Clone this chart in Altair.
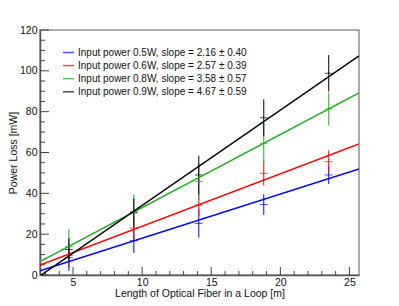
import altair as alt
import pandas as pd

# ---- data ----
lengths = [4.7, 9.4, 14.1, 18.8, 23.5]
series_names = [
    "Input power 0.5W, slope = 2.16 ± 0.40",
    "Input power 0.6W, slope = 2.57 ± 0.39",
    "Input power 0.8W, slope = 3.58 ± 0.57",
    "Input power 0.9W, slope = 4.67 ± 0.59",
]
colors = ["#0000ff", "#ff0000", "#1fae1f", "#000000"]

loss_05 = [8.5, 16.8, 25.3, 34.5, 49.0]
err_05 = [6.5, 6.0, 7.0, 5.0, 4.5]
loss_06 = [9.5, 23.0, 34.3, 49.8, 55.5]
err_06 = [6.0, 6.0, 5.5, 6.0, 5.5]
loss_08 = [13.9, 31.0, 45.8, 64.5, 81.3]
err_08 = [8.7, 8.5, 9.0, 10.0, 8.0]
loss_09 = [12.5, 30.5, 49.0, 77.0, 98.8]
err_09 = [5.5, 7.0, 9.5, 9.0, 9.0]

fit_slopes = [2.16, 2.57, 3.58, 4.67]
fit_intercepts = [-3.6, -1.8, -2.8, -12.6]

x_range = [2.61, 25.69]
y_range = [0, 120]
y_major = [0, 20, 40, 60, 80, 100, 120]
y_minor = [v for v in range(0, 121, 5) if v % 20 != 0]
x_major = [5, 10, 15, 20, 25]
x_minor = [v for v in range(3, 26) if v % 5 != 0]

# ---- tables ----
rows = []
for name, vals, errs in zip(series_names,
                            [loss_05, loss_06, loss_08, loss_09],
                            [err_05, err_06, err_08, err_09]):
    for x, v, e in zip(lengths, vals, errs):
        rows.append({"series": name, "x": x, "y": v, "lo": v - e, "hi": v + e})
pts = pd.DataFrame(rows)

fit_rows = []
for name, b, a in zip(series_names, fit_slopes, fit_intercepts):
    for x in x_range:
        fit_rows.append({"series": name, "x": x, "y": a + b * x})
fits = pd.DataFrame(fit_rows)

FONT = "Liberation Sans"
xs = alt.Scale(domain=x_range, nice=False, zero=False)
ys = alt.Scale(domain=y_range, nice=False)
cs = alt.Scale(domain=series_names, range=colors)
leg = alt.Legend(title=None, orient="none", legendX=22, legendY=16,
                 symbolType="stroke", symbolSize=121, symbolStrokeWidth=1.5,
                 labelFontSize=10, labelFont=FONT, labelColor="#111",
                 rowPadding=1.1, padding=0, labelOffset=3, labelLimit=300)
col = alt.Color("series:N", scale=cs, sort=series_names, legend=leg)

lines = alt.Chart(fits).mark_line(strokeWidth=1.5, clip=True).encode(
    x=alt.X("x:Q", scale=xs,
            axis=alt.Axis(values=x_major, ticks=False, grid=False, labelPadding=2,
                          title="Length of Optical Fiber in a Loop [m]",
                          titlePadding=1)),
    y=alt.Y("y:Q", scale=ys,
            axis=alt.Axis(values=y_major, ticks=False, grid=False, labelPadding=3,
                          title="Power Loss [mW]", titlePadding=1)),
    color=col,
    detail="series:N",
)

bars = alt.Chart(pts).mark_rule(strokeWidth=1).encode(
    x=alt.X("x:Q", scale=xs),
    y=alt.Y("lo:Q", scale=ys),
    y2="hi:Q",
    color=col,
)

marks = alt.Chart(pts).mark_tick(orient="horizontal", size=8, thickness=1).encode(
    x=alt.X("x:Q", scale=xs),
    y=alt.Y("y:Q", scale=ys),
    color=col,
)

tick_col = "#444"
ymaj = alt.Chart(pd.DataFrame({"v": y_major})).mark_rule(color=tick_col, strokeWidth=1).encode(
    y=alt.Y("v:Q", scale=ys), x=alt.value(0), x2=alt.value(9))
ymin = alt.Chart(pd.DataFrame({"v": y_minor})).mark_rule(color=tick_col, strokeWidth=1).encode(
    y=alt.Y("v:Q", scale=ys), x=alt.value(0), x2=alt.value(5))
xmaj = alt.Chart(pd.DataFrame({"v": x_major})).mark_rule(color=tick_col, strokeWidth=1).encode(
    x=alt.X("v:Q", scale=xs), y=alt.value(245), y2=alt.value(237))
xmin = alt.Chart(pd.DataFrame({"v": x_minor})).mark_rule(color=tick_col, strokeWidth=1).encode(
    x=alt.X("v:Q", scale=xs), y=alt.value(245), y2=alt.value(241))

chart = alt.layer(ymaj, ymin, xmaj, xmin, bars, marks, lines).properties(
    width=319, height=245,
    autosize=alt.AutoSizeParams(type="none"),
    padding={"left": 32, "top": 22, "right": 30, "bottom": 27},
    background="white",
).configure_view(
    stroke="#909090", strokeWidth=1.5,
).configure_axis(
    domainColor="#555", domainWidth=1.5,
    labelFont=FONT, labelFontSize=10.5, labelColor="#111",
    titleFont=FONT, titleFontSize=10.5, titleFontWeight="normal", titleColor="#111",
)

chart.save("out.html", embed_options={"renderer": "svg", "actions": False})
